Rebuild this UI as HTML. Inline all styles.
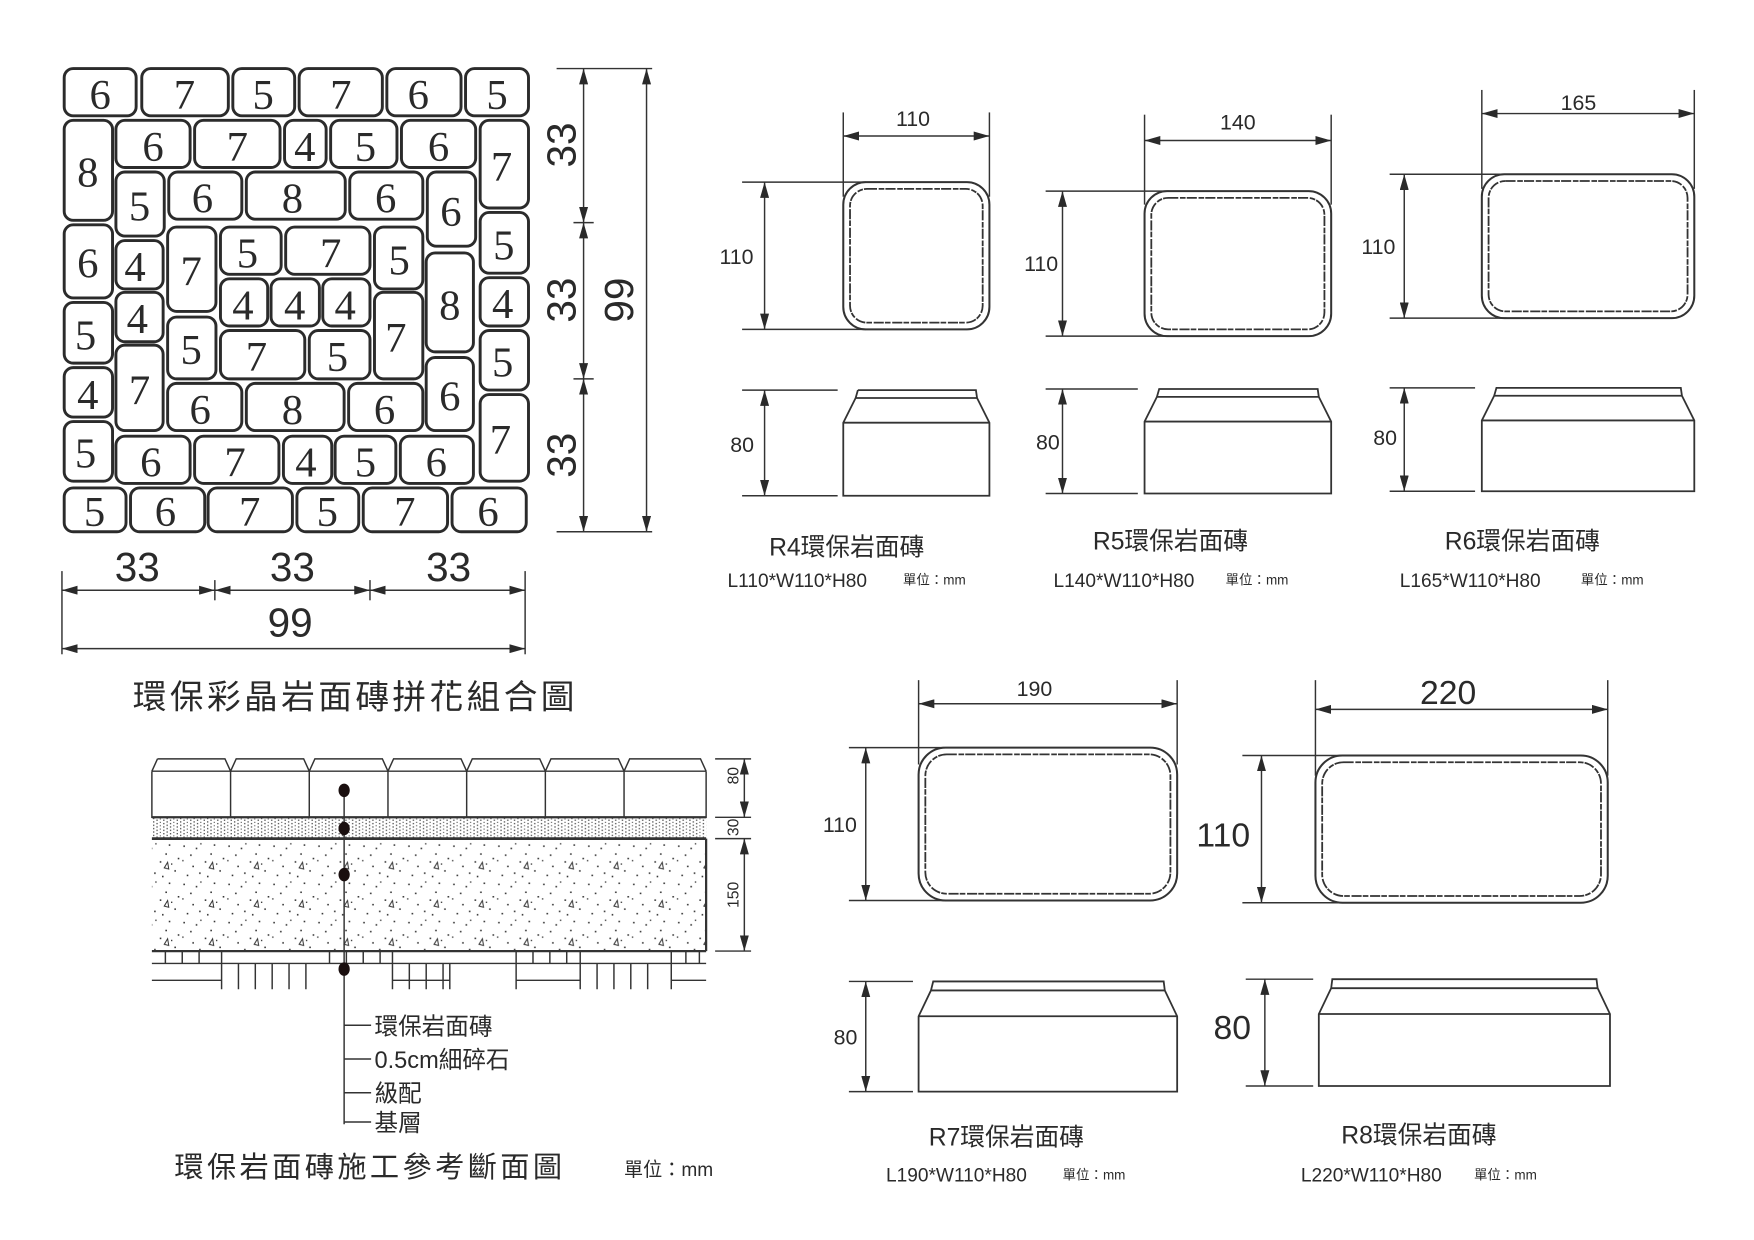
<!DOCTYPE html>
<html><head><meta charset="utf-8"><style>
html,body{margin:0;padding:0;background:#fff}
svg{display:block}
text{font-family:"Liberation Sans","Noto Sans CJK TC",sans-serif;fill:#2a2a2a}
.n text{font-family:"Liberation Serif",serif;font-size:38px;text-anchor:middle}
.t{fill:none;stroke:#2b2b2b;stroke-width:2.6}
.l{stroke:#333;stroke-width:1.3;fill:none}
.w{stroke:#333;stroke-width:1.6;fill:none;stroke-dasharray:9 1.5 5 1}
.d{stroke:#333;stroke-width:1.3;fill:none;marker-start:url(#a);marker-end:url(#a)}
</style></head><body>
<svg width="1754" height="1240" viewBox="0 0 1560 1103" xmlns="http://www.w3.org/2000/svg">
<defs>
<marker id="a" viewBox="0 0 14 8" refX="14" refY="4" markerWidth="14" markerHeight="8" markerUnits="userSpaceOnUse" orient="auto-start-reverse"><path d="M0,0L14,4L0,8Z" fill="#2a2a2a"/></marker>
<pattern id="g" width="12" height="6" patternUnits="userSpaceOnUse"><g fill="#555"><rect x="1" y="0" width="1.2" height="1.2"/><rect x="1" y="3" width="1.2" height="1.2"/><rect x="4" y="1.5" width="1.2" height="1.2"/><rect x="4" y="4.5" width="1.2" height="1.2"/><rect x="7" y="0" width="1.2" height="1.2"/><rect x="7" y="3" width="1.2" height="1.2"/><rect x="10" y="2" width="1" height="1"/><rect x="10" y="5" width="1" height="1"/></g></pattern>
<pattern id="s" width="40" height="34" patternUnits="userSpaceOnUse"><g fill="#333"><rect x="3" y="4" width="1.4" height="1.4"/><rect x="9" y="12" width="1.4" height="1.4"/><rect x="14" y="6" width="1.4" height="1.4"/><rect x="22" y="18" width="1.4" height="1.4"/><rect x="30" y="3" width="1.4" height="1.4"/><rect x="35" y="26" width="1.4" height="1.4"/><rect x="6" y="30" width="1.4" height="1.4"/><rect x="17" y="28" width="1.4" height="1.4"/><rect x="27" y="11" width="1.4" height="1.4"/><rect x="38" y="15" width="1.4" height="1.4"/><rect x="11" y="22" width="1.4" height="1.4"/><rect x="24" y="31" width="1.4" height="1.4"/><rect x="18" y="2" width="1.2" height="1.2"/><rect x="32" y="20" width="1.2" height="1.2"/><rect x="2" y="17" width="1.2" height="1.2"/></g><path d="M26,24l3,-5l1,6z" fill="none" stroke="#333" stroke-width="0.9"/></pattern>
</defs>

<!-- tile grid -->
<g class="t">
<rect x="57" y="61" width="64" height="42" rx="8"/><rect x="126" y="61" width="77" height="42" rx="8"/><rect x="207" y="61" width="55" height="42" rx="8"/><rect x="266" y="61" width="74" height="42" rx="8"/><rect x="344" y="61" width="66" height="42" rx="8"/><rect x="414" y="61" width="56" height="42" rx="8"/>
<rect x="57" y="107" width="43" height="89" rx="8"/><rect x="427" y="107" width="43" height="78" rx="8"/>
<rect x="103" y="107" width="66" height="42" rx="8"/><rect x="173" y="107" width="76" height="42" rx="8"/><rect x="253" y="107" width="37" height="42" rx="8"/><rect x="294" y="107" width="59" height="42" rx="8"/><rect x="357" y="107" width="66" height="42" rx="8"/>
<rect x="103" y="153" width="43" height="57" rx="8"/><rect x="150" y="153" width="65" height="42" rx="8"/><rect x="219" y="153" width="88" height="42" rx="8"/><rect x="311" y="153" width="65" height="42" rx="8"/><rect x="380" y="153" width="43" height="66" rx="8"/>
<rect x="57" y="200" width="43" height="65" rx="8"/><rect x="57" y="269" width="43" height="54" rx="8"/><rect x="57" y="327" width="43" height="44" rx="8"/><rect x="57" y="375" width="43" height="53" rx="8"/>
<rect x="427" y="189" width="43" height="54" rx="8"/><rect x="427" y="247" width="43" height="43" rx="8"/><rect x="427" y="294" width="43" height="53" rx="8"/><rect x="427" y="351" width="43" height="77" rx="8"/>
<rect x="103" y="214" width="42" height="43" rx="8"/><rect x="103" y="260" width="42" height="44" rx="8"/><rect x="103" y="307" width="42" height="76" rx="8"/>
<rect x="149" y="202" width="43" height="75" rx="8"/><rect x="149" y="282" width="43" height="55" rx="8"/>
<rect x="196" y="202" width="54" height="42" rx="8"/><rect x="254" y="202" width="75" height="42" rx="8"/><rect x="333" y="202" width="43" height="55" rx="8"/>
<rect x="196" y="248" width="42" height="42" rx="8"/><rect x="241" y="248" width="43" height="42" rx="8"/><rect x="287" y="248" width="42" height="42" rx="8"/>
<rect x="333" y="260" width="43" height="77" rx="8"/><rect x="379" y="225" width="42" height="88" rx="8"/><rect x="379" y="318" width="42" height="65" rx="8"/>
<rect x="196" y="294" width="75" height="43" rx="8"/><rect x="275" y="294" width="54" height="43" rx="8"/>
<rect x="149" y="341" width="66" height="42" rx="8"/><rect x="219" y="341" width="87" height="42" rx="8"/><rect x="310" y="341" width="66" height="42" rx="8"/>
<rect x="103" y="388" width="66" height="42" rx="8"/><rect x="173" y="388" width="75" height="42" rx="8"/><rect x="252" y="388" width="43" height="42" rx="8"/><rect x="298" y="388" width="54" height="42" rx="8"/><rect x="356" y="388" width="65" height="42" rx="8"/>
<rect x="57" y="434" width="55" height="39" rx="8"/><rect x="116" y="434" width="66" height="39" rx="8"/><rect x="185" y="434" width="75" height="39" rx="8"/><rect x="264" y="434" width="55" height="39" rx="8"/><rect x="323" y="434" width="75" height="39" rx="8"/><rect x="402" y="434" width="66" height="39" rx="8"/>
</g>
<g class="n">
<text x="89" y="97">6</text><text x="164" y="97">7</text><text x="234" y="97">5</text><text x="303" y="97">7</text><text x="372" y="97">6</text><text x="442" y="97">5</text>
<text x="78" y="166">8</text><text x="446" y="161">7</text>
<text x="136" y="143">6</text><text x="211" y="143">7</text><text x="271" y="143">4</text><text x="325" y="143">5</text><text x="390" y="143">6</text>
<text x="124" y="196">5</text><text x="180" y="189">6</text><text x="260" y="189">8</text><text x="343" y="189">6</text><text x="401" y="201">6</text>
<text x="78" y="247">6</text><text x="76" y="311">5</text><text x="78" y="364">4</text><text x="76" y="416">5</text>
<text x="448" y="231">5</text><text x="447" y="283">4</text><text x="447" y="335">5</text><text x="445" y="404">7</text>
<text x="120" y="250">4</text><text x="122" y="296">4</text><text x="124" y="360">7</text>
<text x="170" y="254">7</text><text x="170" y="324">5</text>
<text x="220" y="238">5</text><text x="294" y="238">7</text><text x="355" y="244">5</text>
<text x="216" y="284">4</text><text x="262" y="284">4</text><text x="307" y="284">4</text>
<text x="352" y="313">7</text><text x="400" y="284">8</text><text x="400" y="365">6</text>
<text x="228" y="330">7</text><text x="300" y="330">5</text>
<text x="178" y="377">6</text><text x="260" y="377">8</text><text x="342" y="377">6</text>
<text x="134" y="424">6</text><text x="209" y="424">7</text><text x="272" y="424">4</text><text x="325" y="424">5</text><text x="388" y="424">6</text>
<text x="84" y="468">5</text><text x="147" y="468">6</text><text x="222" y="468">7</text><text x="291" y="468">5</text><text x="360" y="468">7</text><text x="434" y="468">6</text>
</g>

<!-- grid dims -->
<g class="l"><line x1="495" y1="61" x2="580" y2="61"/><line x1="495" y1="473" x2="580" y2="473"/><line x1="510" y1="198" x2="528" y2="198"/><line x1="510" y1="337" x2="528" y2="337"/>
<line x1="55" y1="508" x2="55" y2="582"/><line x1="467" y1="508" x2="467" y2="582"/><line x1="191" y1="516" x2="191" y2="534"/><line x1="329" y1="516" x2="329" y2="534"/></g>
<g class="d"><line x1="519" y1="61" x2="519" y2="198"/><line x1="519" y1="198" x2="519" y2="337"/><line x1="519" y1="337" x2="519" y2="473"/><line x1="575" y1="61" x2="575" y2="473"/>
<line x1="55" y1="525" x2="191" y2="525"/><line x1="191" y1="525" x2="329" y2="525"/><line x1="329" y1="525" x2="467" y2="525"/><line x1="55" y1="577" x2="467" y2="577"/></g>
<g style="font-size:36px;text-anchor:middle">
<text transform="translate(512,129) rotate(-90)">33</text><text transform="translate(512,267) rotate(-90)">33</text><text transform="translate(512,405) rotate(-90)">33</text><text transform="translate(563,267) rotate(-90)">99</text>
<text x="122" y="517">33</text><text x="260" y="517">33</text><text x="399" y="517">33</text><text x="258" y="566">99</text>
</g>
<text x="118" y="630" style="font-size:30px;letter-spacing:3px">環保彩晶岩面磚拼花組合圖</text>

<!-- R4 -->
<g class="l">
<line x1="750" y1="100" x2="750" y2="175"/><line x1="880" y1="100" x2="880" y2="175"/>
<line x1="660" y1="162" x2="770" y2="162"/><line x1="660" y1="293" x2="770" y2="293"/>
<line x1="660" y1="347" x2="745" y2="347"/><line x1="660" y1="441" x2="745" y2="441"/>
<rect x="750" y="162" width="130" height="131" rx="20" stroke-width="1.8"/>
<path d="M750,376 L880,376 M761,354 L869,354 M763,347 L868,347 L869,354 L880,376 L880,441 L750,441 L750,376 L761,354 L763,347" stroke-width="1.6"/>
</g>
<rect class="w" x="756" y="168" width="118" height="119" rx="15"/>
<g class="d"><line x1="750" y1="121" x2="880" y2="121"/><line x1="680" y1="162" x2="680" y2="293"/><line x1="680" y1="347" x2="680" y2="441"/></g>
<text x="812" y="112" style="font-size:19px;text-anchor:middle">110</text>
<text x="655" y="235" style="font-size:19px;text-anchor:middle">110</text>
<text x="660" y="402" style="font-size:19px;text-anchor:middle">80</text>
<text x="684" y="494" style="font-size:22px">R4環保岩面磚</text>
<text x="647" y="522" style="font-size:17px">L110*W110*H80</text><text x="803" y="520" style="font-size:12px">單位：mm</text>

<!-- R5 -->
<g class="l">
<line x1="1018" y1="102" x2="1018" y2="182"/><line x1="1184" y1="102" x2="1184" y2="182"/>
<line x1="930" y1="170" x2="1040" y2="170"/><line x1="930" y1="299" x2="1040" y2="299"/>
<line x1="930" y1="346" x2="1012" y2="346"/><line x1="930" y1="439" x2="1012" y2="439"/>
<rect x="1018" y="170" width="166" height="129" rx="20" stroke-width="1.8"/>
<path d="M1031,346 L1172,346 L1173,353 L1184,375 L1184,439 L1018,439 L1018,375 L1029,353 Z M1029,353 L1173,353 M1018,375 L1184,375" stroke-width="1.6"/>
</g>
<rect class="w" x="1024" y="176" width="154" height="117" rx="15"/>
<g class="d"><line x1="1018" y1="125" x2="1184" y2="125"/><line x1="945" y1="170" x2="945" y2="299"/><line x1="945" y1="346" x2="945" y2="439"/></g>
<text x="1101" y="115" style="font-size:19px;text-anchor:middle">140</text>
<text x="926" y="241" style="font-size:19px;text-anchor:middle">110</text>
<text x="932" y="400" style="font-size:19px;text-anchor:middle">80</text>
<text x="972" y="489" style="font-size:22px">R5環保岩面磚</text>
<text x="937" y="522" style="font-size:17px">L140*W110*H80</text><text x="1090" y="520" style="font-size:12px">單位：mm</text>

<!-- R6 -->
<g class="l">
<line x1="1318" y1="80" x2="1318" y2="168"/><line x1="1507" y1="80" x2="1507" y2="168"/>
<line x1="1236" y1="155" x2="1340" y2="155"/><line x1="1236" y1="283" x2="1340" y2="283"/>
<line x1="1236" y1="345" x2="1312" y2="345"/><line x1="1236" y1="437" x2="1312" y2="437"/>
<rect x="1318" y="155" width="189" height="128" rx="20" stroke-width="1.8"/>
<path d="M1331,345 L1495,345 L1496,352 L1507,374 L1507,437 L1318,437 L1318,374 L1329,352 Z M1329,352 L1496,352 M1318,374 L1507,374" stroke-width="1.6"/>
</g>
<rect class="w" x="1324" y="161" width="177" height="116" rx="15"/>
<g class="d"><line x1="1318" y1="101" x2="1507" y2="101"/><line x1="1249" y1="155" x2="1249" y2="283"/><line x1="1249" y1="345" x2="1249" y2="437"/></g>
<text x="1404" y="98" style="font-size:19px;text-anchor:middle">165</text>
<text x="1226" y="226" style="font-size:19px;text-anchor:middle">110</text>
<text x="1232" y="396" style="font-size:19px;text-anchor:middle">80</text>
<text x="1285" y="489" style="font-size:22px">R6環保岩面磚</text>
<text x="1245" y="522" style="font-size:17px">L165*W110*H80</text><text x="1406" y="520" style="font-size:12px">單位：mm</text>

<!-- R7 -->
<g class="l">
<line x1="817" y1="605" x2="817" y2="680"/><line x1="1047" y1="605" x2="1047" y2="680"/>
<line x1="755" y1="665" x2="840" y2="665"/><line x1="755" y1="801" x2="840" y2="801"/>
<line x1="755" y1="873" x2="812" y2="873"/><line x1="755" y1="971" x2="812" y2="971"/>
<rect x="817" y="665" width="230" height="136" rx="24" stroke-width="1.8"/>
<path d="M830,873 L1035,873 L1036,881 L1047,904 L1047,971 L817,971 L817,904 L828,881 Z M828,881 L1036,881 M817,904 L1047,904" stroke-width="1.6"/>
</g>
<rect class="w" x="823" y="671" width="218" height="124" rx="19"/>
<g class="d"><line x1="817" y1="626" x2="1047" y2="626"/><line x1="770" y1="665" x2="770" y2="801"/><line x1="770" y1="873" x2="770" y2="971"/></g>
<text x="920" y="619" style="font-size:19px;text-anchor:middle">190</text>
<text x="747" y="740" style="font-size:19px;text-anchor:middle">110</text>
<text x="752" y="929" style="font-size:19px;text-anchor:middle">80</text>
<text x="826" y="1019" style="font-size:22px">R7環保岩面磚</text>
<text x="788" y="1051" style="font-size:17px">L190*W110*H80</text><text x="945" y="1049" style="font-size:12px">單位：mm</text>

<!-- R8 -->
<g class="l">
<line x1="1170" y1="605" x2="1170" y2="690"/><line x1="1430" y1="605" x2="1430" y2="690"/>
<line x1="1105" y1="672" x2="1195" y2="672"/><line x1="1105" y1="803" x2="1195" y2="803"/>
<line x1="1108" y1="871" x2="1168" y2="871"/><line x1="1108" y1="966" x2="1168" y2="966"/>
<rect x="1170" y="672" width="260" height="131" rx="24" stroke-width="1.8"/>
<path d="M1185,871 L1420,871 L1421,879 L1432,902 L1432,966 L1173,966 L1173,902 L1184,879 Z M1184,879 L1421,879 M1173,902 L1432,902" stroke-width="1.6"/>
</g>
<rect class="w" x="1176" y="678" width="248" height="119" rx="19"/>
<g class="d"><line x1="1170" y1="631" x2="1430" y2="631"/><line x1="1122" y1="672" x2="1122" y2="803"/><line x1="1125" y1="871" x2="1125" y2="966"/></g>
<text x="1288" y="626" style="font-size:30px;text-anchor:middle">220</text>
<text x="1088" y="753" style="font-size:30px;text-anchor:middle">110</text>
<text x="1096" y="924" style="font-size:30px;text-anchor:middle">80</text>
<text x="1193" y="1017" style="font-size:22px">R8環保岩面磚</text>
<text x="1157" y="1051" style="font-size:17px">L220*W110*H80</text><text x="1311" y="1049" style="font-size:12px">單位：mm</text>

<!-- section -->
<rect x="135" y="727" width="493" height="19" fill="url(#g)"/>
<rect x="135" y="746" width="493" height="100" fill="url(#s)"/>
<g class="l" stroke-width="1.4">
<path d="M135,686 L135,727 L628,727 L628,686"/>
<path d="M140,675 L200,675 L205,686 L210,675 L270,675 L275,686 L280,675 L340,675 L345,686 L350,675 L410,675 L415,686 L420,675 L480,675 L485,686 L490,675 L550,675 L555,686 L560,675 L623,675 L628,686 M135,686 L140,675"/>
<path d="M135,686 L205,686 M205,686 V727 M275,686 V727 M345,686 V727 M415,686 V727 M485,686 V727 M555,686 V727 M135,686 H628"/>
<line x1="135" y1="727" x2="628" y2="727" stroke-width="2"/>
<line x1="135" y1="746" x2="628" y2="746" stroke-width="2.4"/>
<line x1="628" y1="746" x2="628" y2="846" stroke-width="2"/>
<line x1="135" y1="846" x2="628" y2="846" stroke-width="2"/>
<line x1="135" y1="857" x2="628" y2="857"/>
<path d="M135,872 H197 M349,872 H400 M459,872 H516 M597,872 H628"/>
<path d="M147,846V857 M162,846V857 M177,846V857 M197,846V880 M212,857V880 M227,857V880 M242,857V880 M257,857V880 M272,857V880 M293,846V857 M308,846V857 M323,846V857 M338,846V857 M349,846V880 M364,857V880 M379,857V880 M394,857V880 M400,857V880 M459,846V880 M474,846V857 M489,846V857 M504,846V857 M516,846V880 M531,857V880 M546,857V880 M561,857V880 M576,857V880 M597,846V880 M610,846V857 M622,846V857"/>
<path d="M636,675 H668 M636,727 H668 M636,746 H668 M636,846 H668"/>
<line x1="306" y1="703" x2="306" y2="1000"/>
<path d="M306,912 H330 M306,942 H330 M306,972 H330 M306,998 H330"/>
</g>
<g class="d"><line x1="662" y1="675" x2="662" y2="727"/><line x1="662" y1="746" x2="662" y2="846"/></g>
<g fill="#1a0f0f"><ellipse cx="306" cy="703" rx="5" ry="6"/><ellipse cx="306" cy="737" rx="5" ry="6"/><ellipse cx="306" cy="778" rx="5" ry="6"/><ellipse cx="306" cy="862" rx="5" ry="6"/></g>
<g style="font-size:14px;text-anchor:middle">
<text transform="translate(657,690) rotate(-90)">80</text><text transform="translate(657,736) rotate(-90)">30</text><text transform="translate(657,796) rotate(-90)">150</text>
</g>
<g style="font-size:21px">
<text x="333" y="920">環保岩面磚</text><text x="333" y="950">0.5cm細碎石</text><text x="333" y="980">級配</text><text x="333" y="1006">基層</text>
</g>
<text x="155" y="1047" style="font-size:26px;letter-spacing:3px">環保岩面磚施工參考斷面圖</text>
<text x="555" y="1046" style="font-size:17px">單位：mm</text>
</svg>
</body></html>
